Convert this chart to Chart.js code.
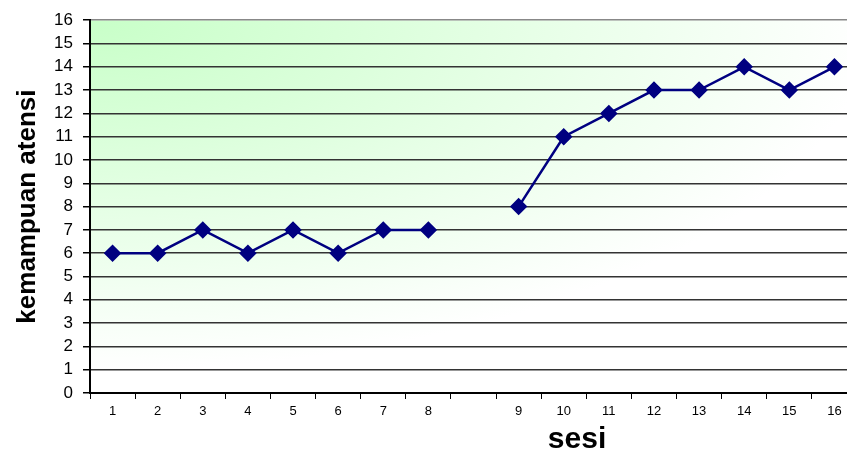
<!DOCTYPE html>
<html>
<head>
<meta charset="utf-8">
<script src="https://cdn.jsdelivr.net/npm/chart.js@4"></script>
<style>
  html, body { margin: 0; padding: 0; background: #ffffff; overflow: hidden; }
  #wrap { width: 847px; height: 458px; overflow: hidden; }
</style>
</head>
<body>
<!-- plot runs past the right edge, so the canvas is a little wider than the frame -->
<div id="wrap"><canvas id="lineChart" width="857" height="458"></canvas></div>
<script>
// sessions 1-8 (baseline), empty slot, sessions 9-16 (intervention)
var sesiLabels = ['1', '2', '3', '4', '5', '6', '7', '8', '', '9', '10', '11', '12', '13', '14', '15', '16'];
var atensiValues = [6, 6, 7, 6, 7, 6, 7, 7, null, 8, 11, 12, 13, 13, 14, 13, 14];
var yMin = 0;
var yMax = 16;

var fontFamily = '"Liberation Sans", Arial, sans-serif';

// green corner gradient behind the plot area
var plotBackground = {
    id: 'plotBackground',
    beforeDraw: function (chart) {
        var ctx = chart.ctx;
        var a = chart.chartArea;
        ctx.save();
        ctx.beginPath();
        ctx.rect(a.left, a.top, a.right - a.left, a.bottom - a.top);
        ctx.clip();
        ctx.translate(a.left, a.top);
        ctx.scale(1, 0.45);
        var g = ctx.createRadialGradient(0, 0, 0, 0, 0, 780);
        g.addColorStop(0, '#c8ffc8');
        g.addColorStop(0.3, '#d8ffd8');
        g.addColorStop(1, '#ffffff');
        ctx.fillStyle = g;
        ctx.fillRect(0, 0, a.right - a.left, (a.bottom - a.top) * 3);
        ctx.restore();
    }
};

// x axis title sits right of centre, so draw it by hand
var sesiTitle = {
    id: 'sesiTitle',
    afterDraw: function (chart) {
        var ctx = chart.ctx;
        var a = chart.chartArea;
        ctx.save();
        ctx.font = 'bold 30px ' + fontFamily;
        ctx.fillStyle = '#000000';
        ctx.textAlign = 'center';
        ctx.textBaseline = 'middle';
        ctx.fillText('sesi', a.left + (a.right - a.left) * 0.635, 440);
        ctx.restore();
    }
};

var ctx = document.getElementById('lineChart').getContext('2d');

var lineChart = new Chart(ctx, {
    type: 'line',
    data: {
        labels: sesiLabels,
        datasets: [
            {
                label: 'kemampuan atensi',
                data: atensiValues,
                borderColor: '#000080',
                backgroundColor: '#000080',
                borderWidth: 2.5,
                pointStyle: 'rectRot',
                pointRadius: 7,
                pointHoverRadius: 7,
                spanGaps: false,
                tension: 0
            }
        ]
    },
    options: {
        responsive: false,
        animation: false,
        layout: {
            autoPadding: false,
            padding: { top: 20, right: 0, left: 0, bottom: 0 }
        },
        plugins: {
            legend: { display: false },
            tooltip: { enabled: false }
        },
        scales: {
            x: {
                offset: true,
                grid: {
                    offset: true,
                    drawOnChartArea: false,
                    drawTicks: true,
                    tickLength: 6,
                    tickColor: '#000000'
                },
                border: { color: '#000000', width: 2 },
                ticks: {
                    color: '#000000',
                    font: { family: fontFamily, size: 13 },
                    padding: 5,
                    maxRotation: 0,
                    autoSkip: false
                },
                afterFit: function (scale) {
                    scale.height = 65;
                    scale.paddingLeft = 0;
                    scale.paddingRight = 0;
                }
            },
            y: {
                min: yMin,
                max: yMax,
                grid: {
                    color: function (c) { return c.tick && c.tick.value === yMax ? '#888888' : '#333333'; },
                    lineWidth: 1.5,
                    tickLength: 7,
                    tickColor: '#000000'
                },
                border: { color: '#000000', width: 2 },
                ticks: {
                    stepSize: 1,
                    autoSkip: false,
                    color: '#000000',
                    font: { family: fontFamily, size: 17 },
                    padding: 10
                },
                title: {
                    display: true,
                    text: 'kemampuan atensi',
                    color: '#000000',
                    font: { family: fontFamily, size: 26, weight: 'bold' },
                    padding: { top: 12, bottom: 0 }
                },
                afterFit: function (scale) { scale.width = 90; }
            }
        }
    },
    plugins: [plotBackground, sesiTitle]
});
</script>
</body>
</html>
